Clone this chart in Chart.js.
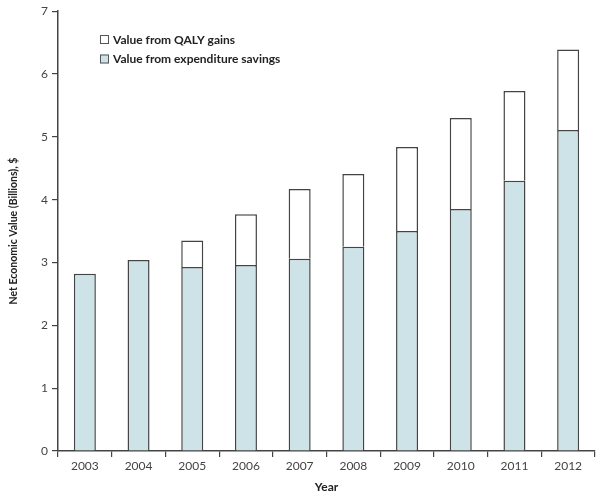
<!DOCTYPE html>
<html>
<head>
<meta charset="utf-8">
<script src="https://cdn.jsdelivr.net/npm/chart.js@4.4.0/dist/chart.umd.min.js"></script>
<style>
  html, body { margin: 0; padding: 0; background: #fff; }
  #wrap { width: 603px; height: 498px; position: relative; }
</style>
</head>
<body>
<div id="wrap"><canvas id="myChart" width="603" height="498"></canvas></div>
<script>
// data
const years = ['2003', '2004', '2005', '2006', '2007', '2008', '2009', '2010', '2011', '2012'];
const expenditureSavings = [2.82, 3.04, 2.93, 2.96, 3.06, 3.25, 3.50, 3.85, 4.30, 5.11];
const qalyGains = [0, 0, 0.42, 0.81, 1.11, 1.16, 1.34, 1.45, 1.43, 1.28];
const yTicks = [0, 1, 2, 3, 4, 5, 6, 7];

const legendItems = [
    { label: 'Value from QALY gains', fill: '#ffffff' },
    { label: 'Value from expenditure savings', fill: '#cde3e8' }
];

const lineColor = '#444444';

// small legend drawn inside the plot, top left
const boxLegend = {
    id: 'boxLegend',
    afterDraw(chart) {
        const ctx = chart.ctx;
        ctx.save();
        ctx.font = 'bold 12px Lato';
        ctx.textBaseline = 'middle';
        legendItems.forEach(function(item, i) {
            const y = 35 + i * 19.5;
            ctx.fillStyle = item.fill;
            ctx.fillRect(100, y, 9, 9);
            ctx.strokeStyle = '#555';
            ctx.lineWidth = 1;
            ctx.strokeRect(100.5, y + 0.5, 8, 8);
            ctx.fillStyle = '#222';
            ctx.fillText(item.label, 113, y + 5);
        });
        ctx.restore();
    }
};

new Chart(document.getElementById('myChart').getContext('2d'), {
    type: 'bar',
    data: {
        labels: years,
        datasets: [
            {
                label: 'Value from expenditure savings',
                data: expenditureSavings,
                backgroundColor: '#cde3e8',
                borderColor: lineColor,
                borderWidth: 1.5,
                barPercentage: 0.41,
                categoryPercentage: 1
            },
            {
                label: 'Value from QALY gains',
                data: qalyGains,
                backgroundColor: '#ffffff',
                borderColor: lineColor,
                borderWidth: 1.5,
                barPercentage: 0.41,
                categoryPercentage: 1
            }
        ]
    },
    options: {
        responsive: false,
        animation: false,
        devicePixelRatio: 1,
        layout: { padding: { top: 11, right: 8, left: 0, bottom: 0 } },
        plugins: {
            legend: { display: false },
            tooltip: { enabled: false }
        },
        scales: {
            x: {
                stacked: true,
                grid: { offset: true, drawOnChartArea: false, tickLength: 6, color: lineColor, lineWidth: 1.2 },
                border: { color: lineColor, width: 1.5 },
                ticks: { color: '#444', font: { family: 'Lato', size: 12 }, padding: 2, maxRotation: 0 },
                title: { display: true, text: 'Year', color: '#222', font: { family: 'Lato', size: 12, weight: 'bold' }, padding: { top: 0, bottom: 4 } },
                afterFit(scale) { scale.height = 47; }
            },
            y: {
                stacked: true,
                min: 0,
                max: 7,
                grid: { drawOnChartArea: false, tickLength: 6, color: lineColor, lineWidth: 1.2 },
                border: { color: lineColor, width: 1.5 },
                afterBuildTicks(scale) { scale.ticks = yTicks.map(v => ({ value: v })); },
                ticks: { color: '#444', font: { family: 'Lato', size: 12 }, padding: 4 },
                title: { display: true, text: 'Net Economic Value (Billions), $', color: '#222', font: { family: 'Lato', size: 10.5, weight: 'bold' }, padding: { top: 7, bottom: 0 } },
                afterFit(scale) { scale.width = 58; }
            }
        }
    },
    plugins: [boxLegend]
});
</script>
</body>
</html>
